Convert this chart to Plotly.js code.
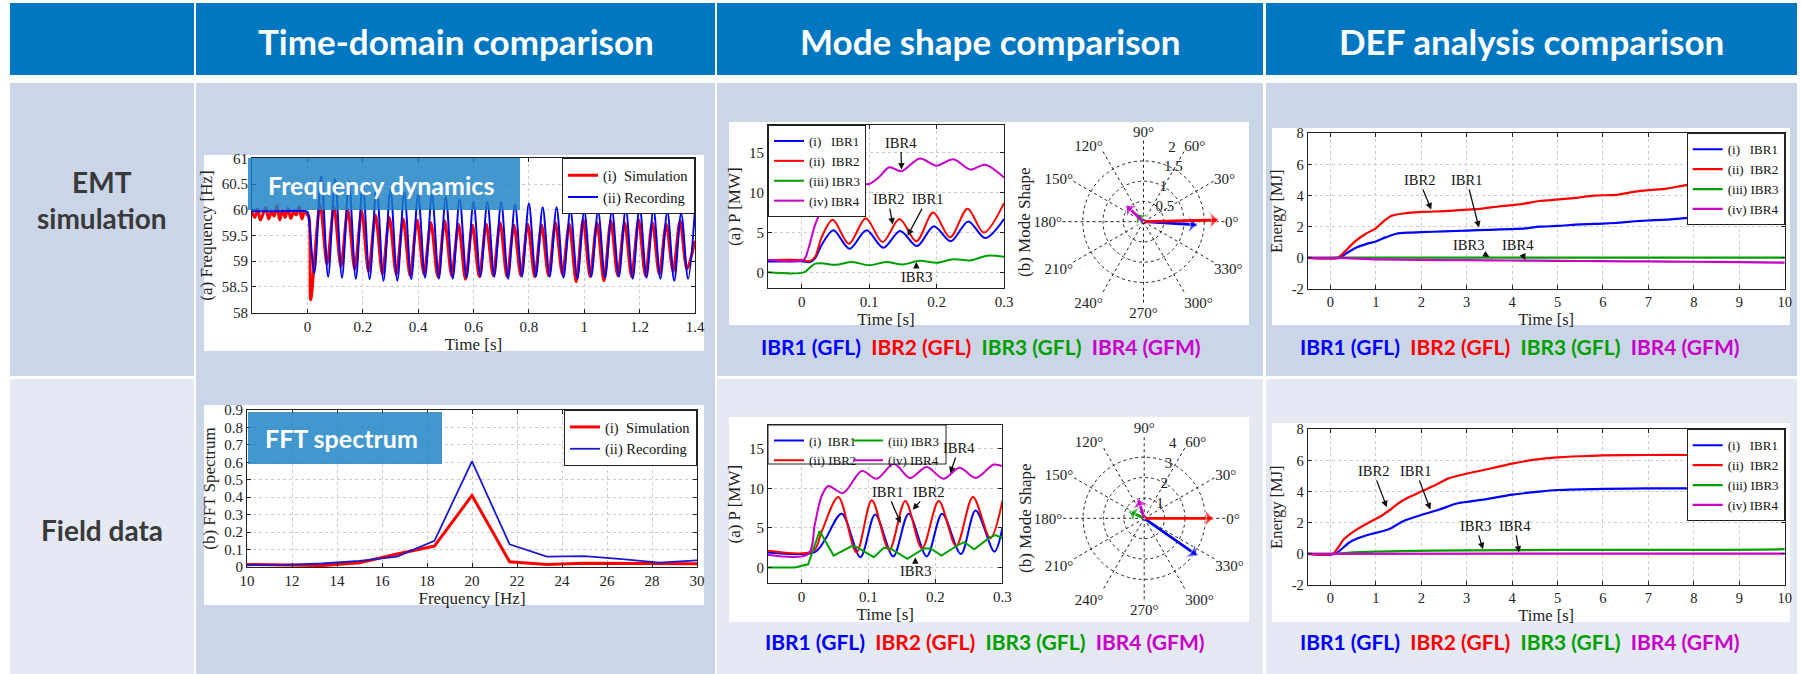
<!DOCTYPE html>
<html><head><meta charset="utf-8">
<script src="https://cdn.plot.ly/plotly-3.0.1.min.js"></script>
<style>html,body{margin:0;padding:0;background:#fff;}#chart{width:1801px;height:674px;}</style>
</head><body><div id="chart"></div>
<script>
// ---------------- DATA ----------------
const columnHeaders = ['Time-domain comparison', 'Mode shape comparison', 'DEF analysis comparison'];
const rowHeaders = ['EMT<br>simulation', 'Field data'];
const ibrNames = ['IBR1', 'IBR2', 'IBR3', 'IBR4'];
const ibrTypes = ['GFL', 'GFL', 'GFL', 'GFM'];

// (a) frequency dynamics
const freqSimT = [-0.2,-0.19,-0.18,-0.17,-0.16,-0.15,-0.14,-0.13,-0.12,-0.11,-0.1,-0.09,-0.08,-0.07,-0.06,-0.05,-0.04,-0.03,-0.02,-0.01,0,
  0.006,0.012,
  0.046,0.071,0.096,0.121,0.146,0.171,0.196,0.221,0.246,0.271,0.296,0.321,0.346,0.371,0.396,0.421,0.446,0.471,0.496,0.521,0.546,0.571,0.596,0.621,0.646,0.671,0.696,0.721,0.746,0.771,0.796,0.821,0.846,0.871,0.896,0.921,0.946,0.971,0.996,1.021,1.046,1.071,1.096,1.121,1.146,1.171,1.196,1.221,1.246,1.271,1.296,1.321,1.346,1.371,
  1.4];
const freqSimV = [59.95,59.85,60.02,59.8,59.92,60.05,59.82,59.95,59.88,60.08,59.8,59.98,59.85,60.03,59.83,59.95,59.9,60.06,59.82,59.97,59.9,
  59.85,58.25,
  60.1,58.95,60.05,58.9,60.0,58.85,59.98,58.8,59.9,58.75,59.85,58.75,59.82,58.72,59.8,58.75,59.75,58.7,59.78,58.72,59.72,58.65,59.7,58.7,59.72,58.72,59.75,58.7,59.7,58.72,59.72,58.7,59.7,58.72,59.75,58.75,59.72,58.6,59.8,58.7,59.75,58.62,59.78,58.72,59.75,58.7,59.8,58.72,59.75,58.75,59.72,58.8,59.78,58.85,
  59.4];
const freqRecT = [-0.2,-0.1,0,0.004,
  0.025,0.05,0.075,0.1,0.125,0.15,0.175,0.2,0.225,0.25,0.275,0.3,0.325,0.35,0.375,0.4,0.425,0.45,0.475,0.5,0.525,0.55,0.575,0.6,0.625,0.65,0.675,0.7,0.725,0.75,0.775,0.8,0.825,0.85,0.875,0.9,0.925,0.95,0.975,1.0,1.025,1.05,1.075,1.1,1.125,1.15,1.175,1.2,1.225,1.25,1.275,1.3,1.325,1.35,1.375,1.4];
const freqRecV = [59.97,59.97,59.96,59.9,
  58.77,60.65,58.7,60.6,58.68,60.55,58.66,60.5,58.65,60.45,58.62,60.4,58.62,60.35,58.65,60.3,58.68,60.3,58.66,60.25,58.66,60.2,58.68,60.15,58.7,60.15,58.7,60.15,58.66,60.1,58.7,60.12,58.7,60.05,58.7,60.05,58.68,60.0,58.66,59.98,58.7,59.98,58.68,60.0,58.7,60.03,58.66,60.07,58.68,60.02,58.66,59.97,58.62,59.93,58.66,60.0];

// (b) FFT spectrum
const fftFreq = [10,11.67,13.33,15,16.67,18.33,20,21.67,23.33,25,26.67,28.33,30];
const fftSim = [0.015,0.012,0.008,0.025,0.075,0.12,0.41,0.03,0.015,0.022,0.02,0.018,0.018];
const fftRec = [0.01,0.012,0.02,0.035,0.06,0.15,0.605,0.13,0.06,0.062,0.045,0.025,0.038];

// Mode shape, EMT simulation: active power P [MW]
const emtP1t = [-0.05,0,0.012,0.02,0.03,0.047,0.071,0.096,0.121,0.146,0.171,0.196,0.221,0.247,0.272,0.3];
const emtP1v = [1.35,1.4,1.3,1.8,3.5,5.3,2.95,5.3,3.1,5.2,3.3,5.8,3.9,6.4,4.3,6.7];
const emtP2t = [-0.05,0,0.012,0.02,0.03,0.046,0.07,0.095,0.12,0.145,0.17,0.195,0.22,0.246,0.27,0.3];
const emtP2v = [1.55,1.55,1.4,2.0,4.5,6.6,3.6,6.8,3.8,6.7,3.9,7.5,4.4,8.0,5.0,8.7];
const emtP3t = [-0.05,0.003,0.012,0.02,0.03,0.05,0.075,0.1,0.125,0.15,0.175,0.2,0.225,0.25,0.275,0.3];
const emtP3v = [0,0,0.6,1.1,1.15,0.95,1.3,0.9,1.3,1.0,1.45,1.2,1.65,1.5,2.1,1.95];
const emtP4t = [-0.05,0.003,0.01,0.02,0.03,0.04,0.05,0.065,0.08,0.1,0.115,0.13,0.148,0.175,0.2,0.225,0.25,0.272,0.3];
const emtP4v = [1.6,1.6,3.0,6.0,7.8,8.2,8.9,10.5,11.2,11.1,12.0,13.2,12.7,14.3,13.4,14.2,12.9,13.5,11.9];
// Mode shape, EMT simulation: polar mode shape (magnitude, angle in degrees)
const emtModeR = [1.32,1.84,0.25,0.58];
const emtModeTheta = [-3.5,1.3,133,137];

// Mode shape, field data: active power P [MW]
const fldP1t = [-0.05,0.02,0.035,0.06,0.088,0.11,0.137,0.16,0.187,0.21,0.238,0.26,0.288,0.3];
const fldP1v = [1.9,1.95,3.5,6.8,1.3,6.7,1.4,6.8,1.4,6.8,1.7,7.2,2.0,5.0];
const fldP2t = [-0.05,0.018,0.03,0.055,0.082,0.105,0.131,0.155,0.18,0.205,0.231,0.256,0.282,0.3];
const fldP2v = [2.1,2.1,4.5,8.9,1.9,8.5,2.2,8.4,2.4,8.4,2.7,8.9,3.7,8.4];
const fldP3t = [-0.05,-0.01,0.01,0.027,0.048,0.075,0.082,0.108,0.123,0.133,0.158,0.183,0.193,0.209,0.235,0.243,0.258,0.281,0.29,0.3];
const fldP3v = [0,0,0.4,4.6,1.5,2.7,2.6,1.3,2.5,2.4,1.1,2.4,2.4,1.5,2.9,3.2,2.3,3.8,4.1,3.7];
const fldP4t = [-0.05,0.01,0.02,0.03,0.04,0.062,0.09,0.112,0.138,0.162,0.187,0.212,0.236,0.26,0.287,0.3];
const fldP4v = [1.6,1.7,5.5,9.0,10.3,9.4,12.2,11.2,13.1,11.3,12.7,11.2,12.6,11.3,13.0,12.8];
const fldModeR = [3.17,3.38,0.81,0.98];
const fldModeTheta = [-35,0,156,107];

// DEF analysis, EMT simulation: energy [MJ]
const emtE1t = [-0.5,0.2,0.35,0.6,0.8,1.0,1.2,1.45,1.7,2.0,2.5,3.0,3.5,4.0,4.3,4.6,5.0,5.5,6.0,6.3,6.7,7.0,7.4,7.8,8.2,8.6,9.0,9.4,10];
const emtE1v = [0,0,0.3,0.7,0.9,1.05,1.3,1.55,1.62,1.65,1.7,1.75,1.8,1.85,1.9,2.0,2.05,2.15,2.2,2.25,2.35,2.4,2.45,2.55,2.62,2.7,2.8,2.88,3.0];
const emtE2t = [-0.5,0.15,0.3,0.5,0.75,1.0,1.15,1.35,1.6,2.0,2.5,3.0,3.3,3.7,4.2,4.6,5.0,5.4,5.8,6.3,6.7,7.0,7.4,7.8,8.2,8.6,9.0,9.5,10];
const emtE2v = [0,0,0.35,0.95,1.5,1.9,2.3,2.7,2.85,2.95,3.0,3.1,3.15,3.3,3.45,3.65,3.75,3.85,4.0,4.05,4.25,4.35,4.45,4.65,4.8,4.9,5.05,5.2,5.35];
const emtE3t = [-0.5,0.2,2,5,10];
const emtE3v = [0,0.01,0.02,0.02,0.02];
const emtE4t = [-0.5,0.2,1,2,3,4,5,6,7,8,9,10];
const emtE4v = [0,0,-0.1,-0.13,-0.15,-0.17,-0.19,-0.21,-0.23,-0.25,-0.27,-0.31];

// DEF analysis, field data: energy [MJ]
const fldE1t = [-0.5,0.1,0.4,0.6,0.8,1.0,1.3,1.6,2.0,2.4,2.8,3.4,4.0,4.6,5.0,6.0,7.0,10];
const fldE1v = [0,0,0.7,1.0,1.2,1.35,1.6,2.1,2.5,2.85,3.25,3.5,3.8,4.0,4.1,4.18,4.2,4.2];
const fldE2t = [-0.5,0.05,0.3,0.6,0.9,1.1,1.3,1.5,1.7,2.0,2.3,2.6,3.0,3.4,3.7,4.0,4.5,5.0,5.5,6.0,7.0,8.0,10];
const fldE2v = [0,0,0.95,1.6,2.1,2.4,2.8,3.25,3.6,4.0,4.4,4.85,5.15,5.4,5.6,5.8,6.05,6.2,6.27,6.32,6.35,6.35,6.35];
const fldE3t = [-0.5,0.1,0.5,1.5,3,5,8,9.5,10];
const fldE3v = [0,0,0.1,0.18,0.23,0.25,0.25,0.27,0.3];
const fldE4t = [-0.5,10];
const fldE4v = [0,0.02];

// tick labels
const freqTicks = [58,58.5,59,59.5,60,60.5,61];
const freqTickText = ['58','58.5','59','59.5','60','60.5','61'];
const timeATicks = [0,0.2,0.4,0.6,0.8,1,1.2,1.4];
const timeATickText = ['0','0.2','0.4','0.6','0.8','1','1.2','1.4'];
const fftXTicks = [10,12,14,16,18,20,22,24,26,28,30];
const fftYTicks = [0,0.1,0.2,0.3,0.4,0.5,0.6,0.7,0.8,0.9];
const fftYTickText = ['0','0.1','0.2','0.3','0.4','0.5','0.6','0.7','0.8','0.9'];
const pTimeTicks = [0,0.1,0.2,0.3];
const pTimeTickText = ['0','0.1','0.2','0.3'];
const pTicks = [0,5,10,15];
const defTimeTicks = [0,1,2,3,4,5,6,7,8,9,10];
const energyTicks = [-2,0,2,4,6,8];
const energyTickText = ['-2','0','2','4','6','8'];

// ---------------- STYLE / LAYOUT ----------------
const W = 1801, H = 674;
const X = v => v / W;
const Y = v => 1 - v / H;
const SERIF = 'Liberation Serif, DejaVu Serif, serif';
const SANS = 'Lato, Open Sans, sans-serif';
const IBRC = ['#0000ff', '#ff0000', '#00a000', '#c800c8'];
const LBL = ['(i)\u00a0\u00a0\u00a0IBR1', '(ii)\u00a0\u00a0IBR2', '(iii) IBR3', '(iv) IBR4'];

function cax(x0, x1, range, tv, tt, title, fs, anchor, isY) {
  const dom = isY ? [Y(x1), Y(x0)] : [X(x0), X(x1)];
  const a = {
    domain: dom, range: range, tickvals: tv, anchor: anchor,
    title: {text: title, font: {family: SERIF, size: fs + 2, color: '#222'}, standoff: isY ? 4 : 1},
    showline: true, mirror: 'ticks', linecolor: '#222', linewidth: 1,
    ticks: 'inside', ticklen: 4, tickcolor: '#222',
    showgrid: true, gridcolor: '#cccccc', griddash: 'dot', gridwidth: 1,
    zeroline: false, tickfont: {family: SERIF, size: fs, color: '#222'}, fixedrange: true
  };
  if (tt) a.ticktext = tt;
  return a;
}

const traces = [];
// Panel A
traces.push({x: freqSimT, y: freqSimV, xaxis: 'x', yaxis: 'y', mode: 'lines', name: '(i)\u00a0\u00a0Simulation',
  line: {color: '#ff0000', width: 3, shape: 'spline', smoothing: 0.8}, legend: 'legend'});
traces.push({x: freqRecT, y: freqRecV, xaxis: 'x', yaxis: 'y', mode: 'lines', name: '(ii) Recording',
  line: {color: '#0000ee', width: 2, shape: 'spline', smoothing: 0.9}, legend: 'legend'});
// Panel B
traces.push({x: fftFreq, y: fftSim, xaxis: 'x2', yaxis: 'y2', mode: 'lines', name: '(i)\u00a0\u00a0Simulation',
  line: {color: '#ff0000', width: 3}, legend: 'legend2'});
traces.push({x: fftFreq, y: fftRec, xaxis: 'x2', yaxis: 'y2', mode: 'lines', name: '(ii) Recording',
  line: {color: '#1a1acc', width: 1.8}, legend: 'legend2'});
// Panel C
const emtPt = [emtP1t, emtP2t, emtP3t, emtP4t], emtPv = [emtP1v, emtP2v, emtP3v, emtP4v];
for (let i = 0; i < 4; i++) {
  traces.push({x: emtPt[i], y: emtPv[i], xaxis: 'x3', yaxis: 'y3', mode: 'lines', name: LBL[i],
    line: {color: IBRC[i], width: 2, shape: 'spline', smoothing: 0.9}, legend: 'legend3'});
}
// Panel D
const fldPt = [fldP1t, fldP2t, fldP3t, fldP4t], fldPv = [fldP1v, fldP2v, fldP3v, fldP4v];
const LBL2 = ['(i)\u00a0\u00a0IBR1', '(ii) IBR2', '(iii) IBR3', '(iv) IBR4'];
for (let i = 0; i < 4; i++) {
  traces.push({x: fldPt[i], y: fldPv[i], xaxis: 'x4', yaxis: 'y4', mode: 'lines', name: LBL2[i],
    line: {color: IBRC[i], width: 2, shape: i === 2 ? 'linear' : 'spline', smoothing: 0.9},
    legend: i < 2 ? 'legend4' : 'legend5'});
}
// Panel E, F
const emtEt = [emtE1t, emtE2t, emtE3t, emtE4t], emtEv = [emtE1v, emtE2v, emtE3v, emtE4v];
const fldEt = [fldE1t, fldE2t, fldE3t, fldE4t], fldEv = [fldE1v, fldE2v, fldE3v, fldE4v];
for (let i = 0; i < 4; i++) {
  traces.push({x: emtEt[i], y: emtEv[i], xaxis: 'x5', yaxis: 'y5', mode: 'lines', name: LBL[i],
    line: {color: IBRC[i], width: 2.2, shape: 'spline', smoothing: 0.6}, legend: 'legend6'});
}
for (let i = 0; i < 4; i++) {
  traces.push({x: fldEt[i], y: fldEv[i], xaxis: 'x6', yaxis: 'y6', mode: 'lines', name: LBL[i],
    line: {color: IBRC[i], width: 2.2, shape: 'spline', smoothing: 0.6}, legend: 'legend7'});
}
// polar mode shapes
function polarArrows(R, TH, sub) {
  for (let i = 0; i < 4; i++) {
    traces.push({type: 'scatterpolar', subplot: sub, r: [0, R[i]], theta: [TH[i], TH[i]], mode: 'lines+markers',
      line: {color: IBRC[i], width: 2.8},
      marker: {symbol: ['circle', 'arrow-wide'], size: [1, 16], angle: [0, 90 - TH[i]], color: IBRC[i]},
      showlegend: false, hoverinfo: 'skip', cliponaxis: false});
  }
}
polarArrows(emtModeR, emtModeTheta, 'polar');
polarArrows(fldModeR, fldModeTheta, 'polar2');

function polarLayout(cx, cy, r, rmax, rticks) {
  return {
    domain: {x: [X(cx - r), X(cx + r)], y: [Y(cy + r), Y(cy - r)]},
    bgcolor: '#ffffff',
    angularaxis: {rotation: 0, direction: 'counterclockwise', dtick: 30, showline: false,
      gridcolor: '#222', griddash: 'dot', gridwidth: 1, ticks: '',
      tickfont: {family: SERIF, size: 15, color: '#222'}},
    radialaxis: {range: [0, rmax], tickvals: rticks, angle: 78, side: 'clockwise', showline: false,
      gridcolor: '#222', griddash: 'dot', gridwidth: 1, ticks: '', tickangle: 78,
      tickfont: {family: SERIF, size: 15, color: '#222'}}
  };
}

// background cells
const shapes = [];
function rect(x0, y0, x1, y1, fill, layer, line) {
  shapes.push({type: 'rect', xref: 'paper', yref: 'paper', x0: X(x0), x1: X(x1), y0: Y(y1), y1: Y(y0),
    fillcolor: fill, line: line || {width: 0}, layer: layer || 'below'});
}
const HEAD = '#0077c0', DARK = '#cbd5e8', LIGHT = '#e4e9f3';
rect(10, 3, 194, 75, HEAD); rect(196, 3, 715, 75, HEAD); rect(717, 3, 1263, 75, HEAD); rect(1266, 3, 1797, 75, HEAD);
rect(10, 83, 194, 376, DARK); rect(10, 379, 194, 674, LIGHT);
rect(196, 83, 715, 674, DARK);
rect(717, 83, 1263, 376, DARK); rect(717, 379, 1263, 674, LIGHT);
rect(1266, 83, 1797, 376, DARK); rect(1266, 379, 1797, 674, LIGHT);
// white chart panels
rect(204, 155, 704, 351, '#ffffff'); rect(204, 405, 704, 605, '#ffffff');
rect(729, 122, 1249, 325, '#ffffff'); rect(729, 417, 1249, 622, '#ffffff');
rect(1272, 128, 1790, 325, '#ffffff'); rect(1272, 423, 1790, 622, '#ffffff');
// overlay boxes
rect(248, 158, 520, 210, 'rgba(25,128,195,0.82)', 'above');
rect(248, 412, 442, 464, 'rgba(25,128,195,0.82)', 'above');
// legend box for panel D
rect(768, 425, 946, 464, '#ffffff', 'above', {color: '#222', width: 1});

const ann = [];
function txt(x, y, text, font, extra) {
  ann.push(Object.assign({xref: 'paper', yref: 'paper', x: X(x), y: Y(y), text: text, showarrow: false,
    xanchor: 'center', yanchor: 'middle', font: font}, extra || {}));
}
const headFont = {family: SANS, size: 35, color: '#ffffff', weight: 700};
txt(455.5, 41, columnHeaders[0], headFont);
txt(990, 41, columnHeaders[1], headFont);
txt(1531, 41, columnHeaders[2], headFont);
const rowFont = {family: SANS, size: 28, color: '#3a3a3a', weight: 700};
txt(102, 200, rowHeaders[0], rowFont);
txt(102, 530, rowHeaders[1], rowFont);
txt(381, 185, 'Frequency dynamics', {family: SANS, size: 25, color: '#ffffff', weight: 700});
txt(341, 438, 'FFT spectrum', {family: SANS, size: 25, color: '#ffffff', weight: 700});
const ibrLine = ibrNames.map((n, i) => '<span style="color:' + IBRC[i] + '">' + n + ' (' + ibrTypes[i] + ')</span>').join('&nbsp;&nbsp;');
const ibrFont = {family: SANS, size: 21, color: '#000', weight: 700};
txt(981, 347, ibrLine, ibrFont); txt(1520, 346, ibrLine, ibrFont);
txt(985, 641, ibrLine, ibrFont); txt(1520, 641, ibrLine, ibrFont);
const msFont = {family: SERIF, size: 17, color: '#222'};
txt(1025, 222, '(b) Mode Shape', msFont, {textangle: -90});
txt(1025, 518, '(b) Mode Shape', msFont, {textangle: -90});

function arr(xr, yr, tx, ty, hx, hy, text) {
  ann.push({xref: xr, yref: yr, axref: xr, ayref: yr, x: hx, y: hy, ax: tx, ay: ty, text: text,
    showarrow: true, arrowhead: 2, arrowsize: 1, arrowwidth: 1.3, arrowcolor: '#111', standoff: 0,
    font: {family: SERIF, size: 14.5, color: '#111'}});
}
arr('x3', 'y3', 0.147, 16.3, 0.148, 12.9, 'IBR4');
arr('x3', 'y3', 0.128, 9.2, 0.135, 6.0, 'IBR2');
arr('x3', 'y3', 0.186, 9.2, 0.157, 4.6, 'IBR1');
arr('x3', 'y3', 0.17, -0.6, 0.17, 1.3, 'IBR3');
arr('x4', 'y4', 0.235, 15.1, 0.222, 11.9, 'IBR4');
arr('x4', 'y4', 0.128, 9.55, 0.148, 5.6, 'IBR1');
arr('x4', 'y4', 0.19, 9.55, 0.166, 7.3, 'IBR2');
arr('x4', 'y4', 0.17, -0.5, 0.17, 1.3, 'IBR3');
arr('x5', 'y5', 1.95, 5.0, 2.22, 3.1, 'IBR2');
arr('x5', 'y5', 3.0, 5.0, 3.27, 1.95, 'IBR1');
arr('x5', 'y5', 3.05, 0.85, 3.5, 0.05, 'IBR3');
arr('x5', 'y5', 4.13, 0.85, 4.29, -0.15, 'IBR4');
arr('x6', 'y6', 0.94, 5.33, 1.24, 3.0, 'IBR2');
arr('x6', 'y6', 1.88, 5.33, 2.2, 2.85, 'IBR1');
arr('x6', 'y6', 3.2, 1.8, 3.36, 0.3, 'IBR3');
arr('x6', 'y6', 4.06, 1.8, 4.15, 0.08, 'IBR4');

function leg(x, y, xanchor, fs, box) {
  return {x: X(x), y: Y(y), xanchor: xanchor, yanchor: 'top', xref: 'paper', yref: 'paper',
    bgcolor: box ? '#ffffff' : 'rgba(0,0,0,0)', bordercolor: '#222', borderwidth: box ? 1 : 0,
    font: {family: SERIF, size: fs, color: '#111'}, itemwidth: 30, tracegroupgap: 0, traceorder: 'normal'};
}

const layout = {
  width: W, height: H, margin: {l: 0, r: 0, t: 0, b: 0},
  paper_bgcolor: '#ffffff', plot_bgcolor: '#ffffff', showlegend: true,
  font: {family: SERIF, color: '#222'},
  xaxis: cax(252, 695, [-0.2, 1.4], timeATicks, timeATickText, 'Time [s]', 15, 'y', false),
  yaxis: cax(158.3, 312.7, [58, 61], freqTicks, freqTickText, '(a) Frequency [Hz]', 15, 'x', true),
  xaxis2: cax(247, 697, [10, 30], fftXTicks, null, 'Frequency [Hz]', 15, 'y2', false),
  yaxis2: cax(410, 567, [0, 0.9], fftYTicks, fftYTickText, '(b) FFT Spectrum', 15, 'x2', true),
  xaxis3: cax(768, 1004, [-0.05, 0.3], pTimeTicks, pTimeTickText, 'Time [s]', 15, 'y3', false),
  yaxis3: cax(125, 288.3, [-2, 18.5], pTicks, null, '(a) P [MW]', 15, 'x3', true),
  xaxis4: cax(768, 1002.4, [-0.05, 0.3], pTimeTicks, pTimeTickText, 'Time [s]', 15, 'y4', false),
  yaxis4: cax(425, 583.3, [-2, 18], pTicks, null, '(a) P [MW]', 15, 'x4', true),
  xaxis5: cax(1307.7, 1784.7, [-0.5, 10], defTimeTicks, null, 'Time [s]', 14.5, 'y5', false),
  yaxis5: cax(133.3, 289, [-2, 8], energyTicks, energyTickText, 'Energy [MJ]', 14.5, 'x5', true),
  xaxis6: cax(1307.7, 1784.7, [-0.5, 10], defTimeTicks, null, 'Time [s]', 14.5, 'y6', false),
  yaxis6: cax(429.3, 585, [-2, 8], energyTicks, energyTickText, 'Energy [MJ]', 14.5, 'x6', true),
  polar: polarLayout(1143.5, 221.7, 81, 2, [0.5, 1, 1.5, 2]),
  polar2: polarLayout(1144.2, 518.3, 81.5, 4, [1, 2, 3, 4]),
  legend: leg(695, 158.3, 'right', 14.5, true),
  legend2: leg(697, 410, 'right', 14.5, true),
  legend3: leg(768, 125, 'left', 13, true),
  legend4: leg(769, 425.5, 'left', 13, false),
  legend5: leg(848, 425.5, 'left', 13, false),
  legend6: leg(1784.7, 133.3, 'right', 13, true),
  legend7: leg(1784.7, 429.3, 'right', 13, true),
  shapes: shapes, annotations: ann
};
Plotly.newPlot('chart', traces, layout, {displayModeBar: false, staticPlot: true});
</script></body></html>
